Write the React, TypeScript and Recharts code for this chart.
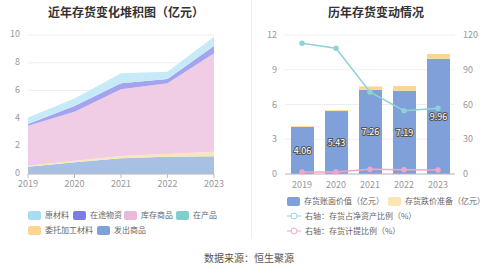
import React from "react";
import { AreaChart, Area, XAxis, YAxis, CartesianGrid, ComposedChart, Bar, Line, LabelList } from "recharts";

const years = ["2019", "2020", "2021", "2022", "2023"];
const shipped = [0.53, 0.84, 1.13, 1.25, 1.27];
const consigned = [0.07, 0.12, 0.17, 0.19, 0.33];
const wip = [0, 0, 0, 0, 0];
const finished = [2.88, 3.52, 4.8, 5.08, 7.08];
const inTransit = [0.12, 0.42, 0.42, 0.31, 0.52];
const rawMaterial = [0.46, 0.54, 0.72, 0.53, 0.68];

const bookValue = [4.06, 5.43, 7.26, 7.19, 9.96];
const impairment = [0.07, 0.08, 0.3, 0.4, 0.4];
const netAssetRatio = [112.9, 108.6, 70.8, 54.7, 56.7];
const provisionRatio = [1.7, 1.7, 4.0, 3.7, 3.4];

const leftTicks = [0, 2, 4, 6, 8, 10];
const rightLeftTicks = [0, 3, 6, 9, 12];
const rightRightTicks = [0, 30, 60, 90, 120];

const areaData = years.map((y, i) => ({
  year: y,
  shipped: shipped[i],
  consigned: consigned[i],
  wip: wip[i],
  finished: finished[i],
  inTransit: inTransit[i],
  raw: rawMaterial[i],
}));

const barData = years.map((y, i) => ({
  year: y,
  book: bookValue[i],
  imp: impairment[i],
  nar: netAssetRatio[i],
  pr: provisionRatio[i],
}));

const FONT = "'Noto Sans CJK SC', 'Noto Sans', sans-serif";
const tickStyle = { fontSize: 9, fill: "#999", fontFamily: FONT };

const leftLegend = [
  { name: "原材料", color: "#a7ddf4", x: 28, y: 209 },
  { name: "在途物资", color: "#7c7ce6", x: 73, y: 209 },
  { name: "库存商品", color: "#eab8d9", x: 124, y: 209 },
  { name: "在产品", color: "#7fcfcf", x: 176, y: 209 },
  { name: "委托加工材料", color: "#fcd690", x: 28, y: 224 },
  { name: "发出商品", color: "#7fa0d8", x: 97, y: 224 },
];

function RectIcon({ color }: { color: string }) {
  return <span style={{ display: "inline-block", width: 13, height: 9, background: color, borderRadius: 2, marginRight: 4 }} />;
}

function LineIcon({ color }: { color: string }) {
  return (
    <svg width={14} height={10} style={{ marginRight: 4 }}>
      <line x1={0} y1={5} x2={14} y2={5} stroke={color} strokeWidth={1} />
      <circle cx={7} cy={5} r={3} fill="#fff" stroke={color} strokeWidth={1} />
    </svg>
  );
}

const BarLabel = (props: any) => {
  const { x, y, width, height, value } = props;
  return (
    <text
      x={x + width / 2}
      y={y + height / 2}
      textAnchor="middle"
      dominantBaseline="central"
      fontSize={9}
      fontFamily={FONT}
      fill="#fff"
      stroke="#555"
      strokeWidth={2}
      paintOrder="stroke"
    >
      {value}
    </text>
  );
};

const legendText = { position: "absolute" as const, display: "flex", alignItems: "center", fontSize: 8, color: "#666", whiteSpace: "nowrap" as const, lineHeight: "12px" };

export default function App() {
  return (
    <div style={{ position: "absolute", left: 0, top: 0, width: 498, height: 269, background: "#fff", fontFamily: FONT, overflow: "hidden" }}>
      <div style={{ position: "absolute", left: 0, top: 3, width: 252, textAlign: "center", fontSize: 12, fontWeight: 700, color: "#333" }}>
        近年存货变化堆积图（亿元）
      </div>
      <div style={{ position: "absolute", left: 250, top: 3, width: 252, textAlign: "center", fontSize: 12, fontWeight: 700, color: "#333" }}>
        历年存货变动情况
      </div>
      <div style={{ position: "absolute", left: 251, top: 0, width: 1, height: 238, background: "#eee" }} />

      <div style={{ position: "absolute", left: 0, top: 0 }}>
        <AreaChart width={250} height={190} data={areaData} margin={{ top: 35, right: 36, left: 0, bottom: 0 }}>
          <CartesianGrid vertical={false} stroke="#eee" />
          <XAxis dataKey="year" tick={{ ...tickStyle, dy: 1 }} axisLine={{ stroke: "#bbb" }} tickLine={{ stroke: "#bbb" }} tickSize={4} height={16} interval={0} />
          <YAxis domain={[0, 10]} ticks={leftTicks} tick={{ ...tickStyle, dy: -1 }} axisLine={false} tickLine={false} width={28} />
          <Area type="linear" dataKey="shipped" stackId="a" stroke="none" fill="#a9c0e5" fillOpacity={1} isAnimationActive={false} />
          <Area type="linear" dataKey="consigned" stackId="a" stroke="none" fill="#fbe6b8" fillOpacity={1} isAnimationActive={false} />
          <Area type="linear" dataKey="wip" stackId="a" stroke="none" fill="#a8e0e0" fillOpacity={1} isAnimationActive={false} />
          <Area type="linear" dataKey="finished" stackId="a" stroke="none" fill="#f0cde4" fillOpacity={1} isAnimationActive={false} />
          <Area type="linear" dataKey="inTransit" stackId="a" stroke="none" fill="#a3a3f0" fillOpacity={1} isAnimationActive={false} />
          <Area type="linear" dataKey="raw" stackId="a" stroke="none" fill="#c6eaf8" fillOpacity={1} isAnimationActive={false} />
        </AreaChart>
      </div>

      <div style={{ position: "absolute", left: 250, top: 0 }}>
        <ComposedChart width={248} height={190} data={barData} margin={{ top: 35, right: 0, left: 0, bottom: 0 }}>
          <CartesianGrid vertical={false} stroke="#eee" yAxisId="l" />
          <XAxis dataKey="year" tick={tickStyle} axisLine={{ stroke: "#bbb" }} tickLine={false} height={16} interval={0} />
          <YAxis yAxisId="l" domain={[0, 12]} ticks={rightLeftTicks} tick={tickStyle} axisLine={false} tickLine={false} width={35} />
          <YAxis yAxisId="r" orientation="right" domain={[0, 120]} ticks={rightRightTicks} tick={{ ...tickStyle, textAnchor: "start" }} axisLine={false} tickLine={false} width={43} />
          <Bar yAxisId="l" dataKey="book" stackId="s" fill="#7fa0d8" barSize={23} isAnimationActive={false}>
            <LabelList dataKey="book" content={BarLabel} />
          </Bar>
          <Bar yAxisId="l" dataKey="imp" stackId="s" fill="#fcd690" barSize={23} isAnimationActive={false} />
          <Line yAxisId="r" type="linear" dataKey="nar" stroke="#8dd3d9" strokeWidth={1.5} dot={{ r: 2, fill: "#8dd3d9", stroke: "#8dd3d9" }} isAnimationActive={false} />
          <Line yAxisId="r" type="linear" dataKey="pr" stroke="#f2a6cc" strokeWidth={1.5} dot={{ r: 2, fill: "#f2a6cc", stroke: "#f2a6cc" }} isAnimationActive={false} />
        </ComposedChart>
      </div>

      {leftLegend.map((l) => (
        <div key={l.name} style={{ ...legendText, left: l.x, top: l.y }}>
          <RectIcon color={l.color} />
          {l.name}
        </div>
      ))}

      <div style={{ ...legendText, left: 287, top: 195 }}>
        <RectIcon color="#7fa0d8" />存货账面价值（亿元）
      </div>
      <div style={{ ...legendText, left: 388, top: 195 }}>
        <RectIcon color="#fde3b6" />存货跌价准备（亿元）
      </div>
      <div style={{ ...legendText, left: 287, top: 210 }}>
        <LineIcon color="#8dd3d9" />右轴：存货占净资产比例（%）
      </div>
      <div style={{ ...legendText, left: 287, top: 225 }}>
        <LineIcon color="#f2a6cc" />右轴：存货计提比例（%）
      </div>

      <div style={{ position: "absolute", left: 0, top: 250, width: 498, textAlign: "center", fontSize: 10, color: "#555" }}>
        数据来源：恒生聚源
      </div>
    </div>
  );
}
